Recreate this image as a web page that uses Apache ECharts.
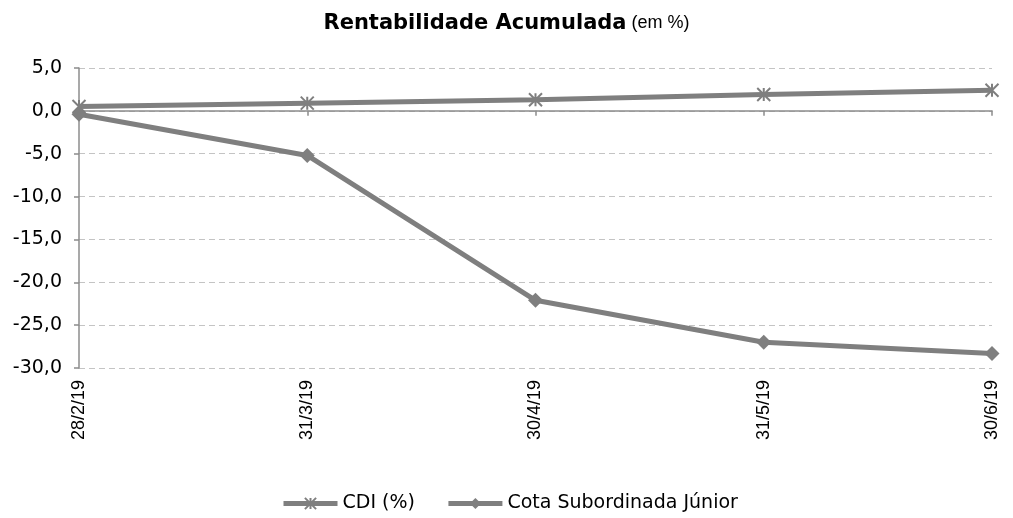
<!DOCTYPE html>
<html>
<head>
<meta charset="utf-8">
<script src="https://cdn.jsdelivr.net/npm/echarts@6/dist/echarts.min.js"></script>
<style>
  html, body { margin: 0; padding: 0; background: #fff; }
  #chart { width: 1013px; height: 518px; }
</style>
</head>
<body>
<div id="chart"></div>
<script>
// datas do eixo x
var datas = ['28/2/19', '31/3/19', '30/4/19', '31/5/19', '30/6/19'];
// rentabilidade acumulada (%)
var cdi = [0.5, 0.9, 1.3, 1.9, 2.4];
var cotaSub = [-0.4, -5.2, -22.1, -27.0, -28.3];
var yTicks = [5, 0, -5, -10, -15, -20, -25, -30];

var cinza = '#7f7f7f';
var fonte = '"DejaVu Sans", Verdana, sans-serif';
var fonteX = '"Liberation Sans", Arial, sans-serif';

var chart = echarts.init(document.getElementById('chart'));

var option = {
    backgroundColor: '#fff',
    animation: false,
    title: {
        text: '{b|Rentabilidade Acumulada} {n|(em %)}',
        left: 'center',
        top: 8,
        textStyle: {
            rich: {
                b: { fontFamily: fonte, fontSize: 21, fontWeight: 'bold', color: '#000' },
                n: { fontFamily: fonteX, fontSize: 18, fontWeight: 'normal', color: '#000' }
            }
        }
    },
    grid: {
        left: 79,
        right: 21,
        top: 68,
        bottom: 150,
        containLabel: false,
        outerBoundsMode: 'none'
    },
    legend: {
        bottom: 0,
        left: 276,
        itemWidth: 54,
        itemHeight: 14,
        itemGap: 31,
        lineStyle: { width: 5, color: cinza },
        textStyle: { fontFamily: fonte, fontSize: 19, color: '#000' },
        data: ['CDI (%)', 'Cota Subordinada Júnior']
    },
    xAxis: [
        {
            // rótulos embaixo
            type: 'category',
            data: datas,
            boundaryGap: false,
            position: 'bottom',
            axisLine: { show: false, onZero: false },
            axisTick: { show: false },
            splitLine: { show: false },
            axisLabel: {
                rotate: 90,
                margin: 12,
                color: '#000',
                fontFamily: fonteX,
                fontSize: 18
            }
        },
        {
            // linha do eixo no zero
            type: 'category',
            data: datas,
            boundaryGap: false,
            position: 'bottom',
            axisLine: { show: true, onZero: true, lineStyle: { color: '#8c8c8c', width: 1.5 } },
            axisTick: { show: true, length: 5, lineStyle: { color: '#8c8c8c', width: 1.5 } },
            axisLabel: { show: false },
            splitLine: { show: false }
        }
    ],
    yAxis: {
        type: 'value',
        min: -30,
        max: 5,
        interval: 5,
        axisLine: { show: true, lineStyle: { color: '#8c8c8c', width: 1.5 } },
        axisTick: { show: true, length: 5, lineStyle: { color: '#8c8c8c', width: 1.5 } },
        splitLine: { show: true, lineStyle: { color: '#c4c4c4', type: [6, 4], width: 1 } },
        axisLabel: {
            margin: 17,
            color: '#000',
            fontFamily: fonte,
            fontSize: 19,
            formatter: function (v) {
                if (yTicks.indexOf(v) < 0) return '';
                return v.toFixed(1).replace('.', ',');
            }
        }
    },
    series: [
        {
            name: 'CDI (%)',
            type: 'line',
            data: cdi,
            xAxisIndex: 0,
            symbol: 'path://M0,0L10,10M10,0L0,10M5,0L5,10',
            symbolSize: 13,
            showAllSymbol: true,
            lineStyle: { color: cinza, width: 5 },
            itemStyle: { color: 'none', borderColor: cinza, borderWidth: 2 },
            z: 3
        },
        {
            name: 'Cota Subordinada Júnior',
            type: 'line',
            data: cotaSub,
            xAxisIndex: 0,
            symbol: 'diamond',
            symbolSize: 15,
            showAllSymbol: true,
            lineStyle: { color: cinza, width: 5 },
            itemStyle: { color: cinza, borderWidth: 0 },
            z: 3
        }
    ]
};

chart.setOption(option);
</script>
</body>
</html>
